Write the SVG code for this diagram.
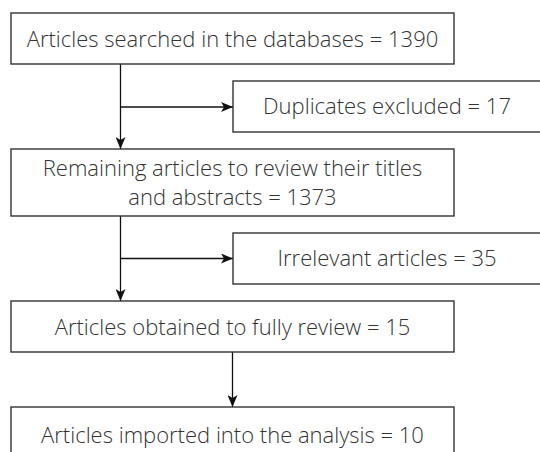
<svg xmlns="http://www.w3.org/2000/svg" width="540" height="452" viewBox="0 0 540 452">
<defs>
<style>
.box{fill:#fff;stroke:#333;stroke-width:1.4}
.t{font-family:"Open Sans",Lato,sans-serif;font-weight:300;font-size:22px;fill:#333;text-anchor:middle}
.c{stroke:#111;stroke-width:1.3;fill:none}
</style>
<marker id="ah" viewBox="0 0 12 10" refX="12" refY="5" markerWidth="12" markerHeight="10" markerUnits="userSpaceOnUse" orient="auto">
<path d="M0,0 L12,5 L0,10 L3,5 Z" fill="#111"/>
</marker>
</defs>
<rect width="540" height="452" fill="#fff"/>
<g id="connectors">
<path class="c" d="M120.5,64 V149" marker-end="url(#ah)"/>
<path class="c" d="M120.5,107 H233" marker-end="url(#ah)"/>
<path class="c" d="M120.5,216 V301" marker-end="url(#ah)"/>
<path class="c" d="M120.5,258.5 H233" marker-end="url(#ah)"/>
<path class="c" d="M232.5,352 V407" marker-end="url(#ah)"/>
</g>
<g id="n1"><rect class="box" x="11" y="13" width="443" height="51"/><text class="t" x="232.5" y="46.5">Articles searched in the databases = 1390</text></g>
<g id="n2"><rect class="box" x="233" y="81" width="310" height="51"/><text class="t" x="387" y="114">Duplicates excluded = 17</text></g>
<g id="n3"><rect class="box" x="11" y="149" width="443" height="67"/><text class="t" x="232.5" y="176">Remaining articles to review their titles</text><text class="t" x="232.5" y="205">and abstracts = 1373</text></g>
<g id="n4"><rect class="box" x="233" y="233" width="310" height="51"/><text class="t" x="387" y="266">Irrelevant articles = 35</text></g>
<g id="n5"><rect class="box" x="11" y="301" width="443" height="51"/><text class="t" x="232.5" y="334.5">Articles obtained to fully review = 15</text></g>
<g id="n6"><rect class="box" x="11" y="407" width="443" height="60"/><text class="t" x="232.5" y="443">Articles imported into the analysis = 10</text></g>
</svg>
